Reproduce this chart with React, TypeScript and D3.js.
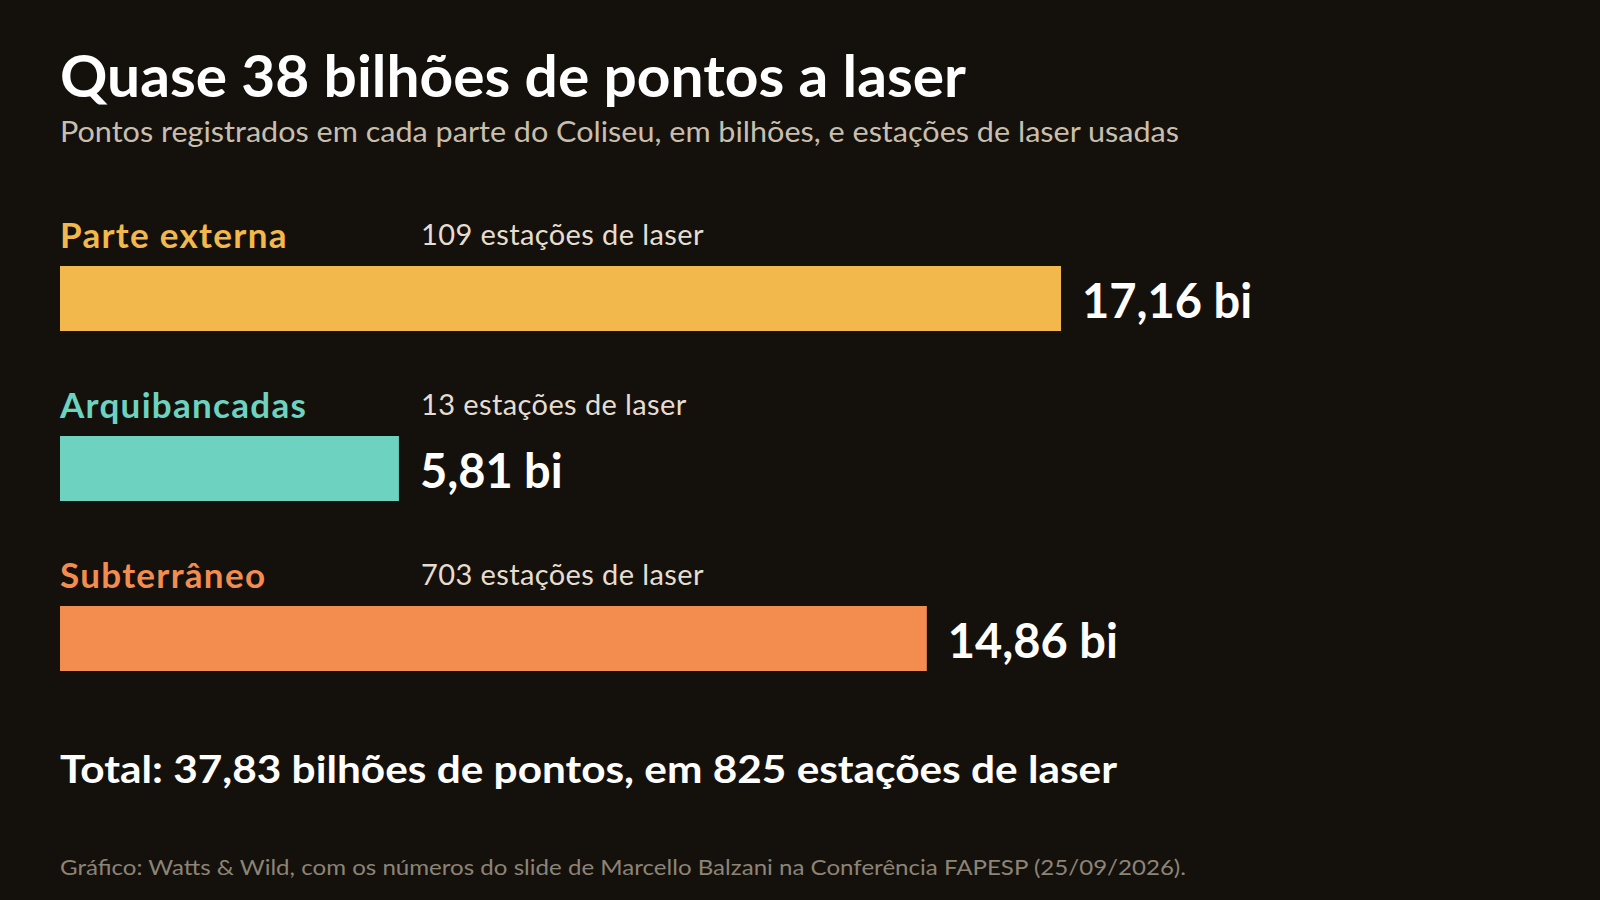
import React from "react";
import * as d3 from "d3";

const categories = ["Parte externa", "Arquibancadas", "Subterrâneo"];
const values = [17.16, 5.81, 14.86];
const stations = [109, 13, 703];
const colors = ["#f2b84b", "#6dd3c0", "#f28c4f"];

const title = "Quase 38 bilhões de pontos a laser";
const subtitle = "Pontos registrados em cada parte do Coliseu, em bilhões, e estações de laser usadas";
const footer = "Gráfico: Watts & Wild, com os números do slide de Marcello Balzani na Conferência FAPESP (25/09/2026).";

const W = 1600;
const H = 900;
const FONT = "Lato, 'Open Sans', sans-serif";

const fmt = (v: number) => d3.format(".2f")(v).replace(".", ",");

export default function App() {
  const x = d3.scaleLinear().domain([0, d3.max(values) as number]).range([60, 1061]);
  const y = d3.scaleBand<string>().domain(categories).range([266, 671]).paddingInner(105 / 170).paddingOuter(0);
  const total = d3.sum(values);
  const totalStations = d3.sum(stations);

  return (
    <svg width={W} height={H} style={{ position: "absolute", left: 0, top: 0, display: "block" }} fontFamily={FONT}>
      <rect x={0} y={0} width={W} height={H} fill="#14110d" />
      <text x={60} y={97} fill="#ffffff" fontSize={57} fontWeight={700} textLength={906} lengthAdjust="spacingAndGlyphs">{title}</text>
      <text x={60} y={142} fill="#c9bfae" fontSize={28} textLength={1119} lengthAdjust="spacingAndGlyphs">{subtitle}</text>
      {categories.map((c, i) => {
        const top = y(c) as number;
        const bw = y.bandwidth();
        return (
          <g key={c}>
            <text x={60} y={top - 18} fill={colors[i]} fontSize={35} fontWeight={700} letterSpacing={1.3}>{c}</text>
            <text x={421} y={top - 21} fill="#e6ddd0" fontSize={29} letterSpacing={0.4}>{`${stations[i]} estações de laser`}</text>
            <rect x={x(0)} y={top} width={x(values[i]) - x(0)} height={bw} fill={colors[i]} />
            <text x={x(values[i]) + 21} y={top + 52} fill="#ffffff" fontSize={47} fontWeight={700}>{`${fmt(values[i])} bi`}</text>
          </g>
        );
      })}
      <text x={60} y={783} fill="#ffffff" fontSize={38} fontWeight={700} textLength={1057} lengthAdjust="spacingAndGlyphs">
        {`Total: ${fmt(total)} bilhões de pontos, em ${totalStations} estações de laser`}
      </text>
      <text x={60} y={875} fill="#8c8476" fontSize={22} textLength={1126} lengthAdjust="spacingAndGlyphs">{footer}</text>
    </svg>
  );
}
